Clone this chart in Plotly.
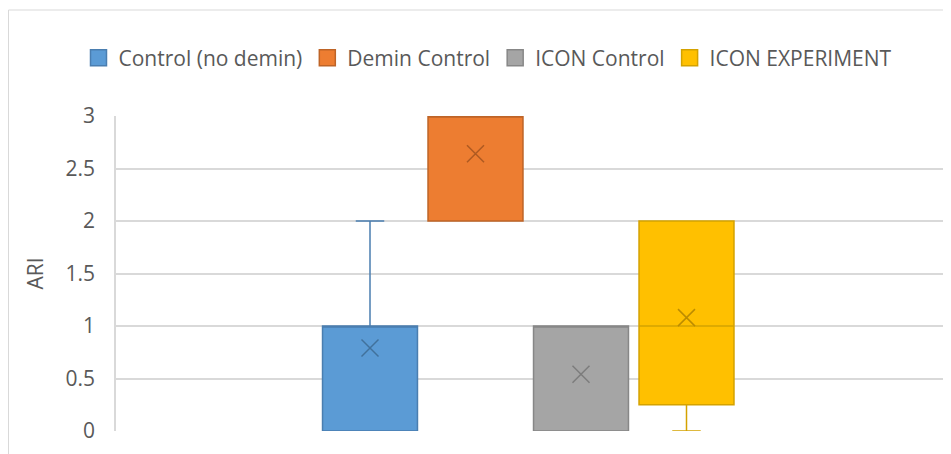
import plotly.graph_objects as go

# Data
series = ["Control (no demin)", "Demin Control", "ICON Control", "ICON EXPERIMENT"]
mins = [0, 2, 0, 0]
q1s = [0, 2, 0, 0.25]
medians = [1, 3, 1, 1]
q3s = [1, 3, 1, 2]
maxs = [2, 3, 1, 2]
means = [0.79, 2.64, 0.54, 1.08]
y_ticks = [0, 0.5, 1, 1.5, 2, 2.5, 3]

fills = ["#5B9BD5", "#ED7D31", "#A5A5A5", "#FFC000"]
edges = ["#4A7EB0", "#BE6427", "#878787", "#D4A200"]
xmarks = ["#41719C", "#AE5A21", "#7C7C7C", "#BC8C00"]

FONT = "Open Sans"
FS = 21

fig = go.Figure()
for i, name in enumerate(series):
    fig.add_trace(go.Box(
        x=[i], q1=[q1s[i]], median=[medians[i]], q3=[q3s[i]],
        lowerfence=[mins[i]], upperfence=[maxs[i]],
        name=name, width=0.9, whiskerwidth=0.3,
        fillcolor=fills[i], line=dict(color=edges[i], width=1.5),
        boxpoints=False, hoverinfo="skip", showlegend=False,
    ))
for i, name in enumerate(series):
    fig.add_trace(go.Scatter(
        x=[i], y=[means[i]], mode="markers", showlegend=False,
        marker=dict(symbol="x-thin-open", size=17, color=xmarks[i],
                    line=dict(color=xmarks[i], width=1.5)),
        hoverinfo="skip",
    ))
# legend entries
for i, name in enumerate(series):
    fig.add_trace(go.Scatter(
        x=[None], y=[None], mode="markers", name=name,
        marker=dict(symbol="square", size=16, color=fills[i],
                    line=dict(color=edges[i], width=1.5)),
    ))

OFF = 8  # page offset of the figure in the browser
W, H = 951 - OFF, 454 - OFF
L, R, T, B = 116 - OFF, 3, 116 - OFF, 23
pw = W - L - R
ph = H - T - B
unit = 105.5
cx0 = 370 - OFF
x0 = (L - cx0) / unit
x1 = (W - R - cx0) / unit

fig.update_layout(
    width=W, height=H,
    margin=dict(l=L, r=R, t=T, b=B),
    paper_bgcolor="white", plot_bgcolor="white",
    font=dict(family=FONT, size=FS, color="#595959"),
    showlegend=True,
    legend=dict(orientation="h", x=(488 - OFF - L) / pw, xanchor="center",
                y=(H - B - (58 - OFF)) / ph, yanchor="middle",
                font=dict(size=FS, color="#595959"),
                itemwidth=30, tracegroupgap=0),
    xaxis=dict(range=[x0, x1], showgrid=False, zeroline=False,
               showticklabels=False, showline=False, fixedrange=True),
    yaxis=dict(range=[0, 3], tickvals=y_ticks,
               ticktext=[f"{v:g}" for v in y_ticks],
               showgrid=True, gridcolor="#D9D9D9", gridwidth=1.5,
               zeroline=False, showline=True, linecolor="#D9D9D9",
               linewidth=1.5, ticks="outside", ticklen=15,
               tickcolor="rgba(0,0,0,0)",
               tickfont=dict(size=FS, color="#595959"),
               title=dict(text="ARI", font=dict(size=FS, color="#595959"),
                          standoff=16)),
    shapes=[dict(type="rect", xref="paper", yref="paper",
                 x0=(0.5 - L) / pw, x1=1.5, y0=-0.5, y1=(H - B - 2) / ph,
                 line=dict(color="#D9D9D9", width=1), layer="below")],
)

fig.write_html("out.html")
